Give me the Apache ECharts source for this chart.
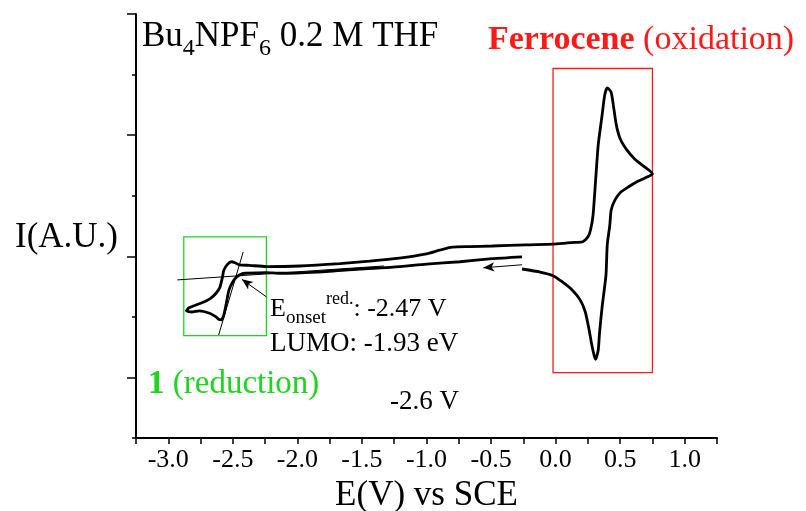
<!DOCTYPE html>
<html>
<head>
<meta charset="utf-8">
<script src="https://cdn.jsdelivr.net/npm/echarts@6/dist/echarts.min.js"></script>
<style>
  html, body { margin: 0; padding: 0; background: #fff; }
  #chart { width: 806px; height: 511px; }
</style>
</head>
<body>
<div id="chart"></div>
<script>
// Cyclic voltammogram, potential in V vs SCE, current in arbitrary units.
// Sweep 1: from -0.26 V towards negative potentials (reduction of 1)
const sweep1E = [-0.26, -0.49, -0.74, -1.00, -1.26, -1.52, -1.85, -2.14, -2.24, -2.40, -2.43, -2.47, -2.50, -2.53, -2.55, -2.57, -2.59, -2.61, -2.63, -2.68, -2.76, -2.82, -2.86];
const sweep1I = [2.99, 2.96, 2.91, 2.87, 2.82, 2.79, 2.74, 2.72, 2.73, 2.72, 2.71, 2.66, 2.58, 2.44, 2.23, 2.03, 1.95, 1.96, 2.00, 2.06, 2.10, 2.08, 2.10];

// Sweep 2: from -2.86 V up to +0.75 V (re-oxidation of 1, ferrocene oxidation)
const sweep2E = [-2.84, -2.78, -2.72, -2.67, -2.63, -2.60, -2.58, -2.57, -2.54, -2.51, -2.48, -2.45, -2.37, -2.24, -1.98, -1.67, -1.44, -1.21, -1.00, -0.90, -0.80, -0.67, -0.49, -0.23, -0.02, 0.09, 0.15, 0.21, 0.25, 0.27, 0.29, 0.31, 0.33, 0.36, 0.38, 0.40, 0.43, 0.45, 0.47, 0.50, 0.55, 0.61, 0.68, 0.75];
const sweep2I = [2.15, 2.20, 2.25, 2.31, 2.39, 2.49, 2.66, 2.77, 2.87, 2.91, 2.89, 2.86, 2.85, 2.83, 2.84, 2.88, 2.92, 2.97, 3.04, 3.10, 3.15, 3.16, 3.17, 3.19, 3.20, 3.22, 3.23, 3.24, 3.32, 3.43, 3.68, 4.26, 4.84, 5.33, 5.66, 5.78, 5.71, 5.45, 5.17, 4.94, 4.76, 4.61, 4.49, 4.36];

// Sweep 3: from +0.75 V back to -0.26 V (ferrocenium reduction)
const sweep3E = [0.69, 0.63, 0.56, 0.50, 0.46, 0.43, 0.42, 0.40, 0.39, 0.36, 0.34, 0.33, 0.31, 0.30, 0.28, 0.26, 0.23, 0.19, 0.13, 0.05, -0.02, -0.12, -0.26];
const sweep3I = [4.29, 4.23, 4.14, 4.05, 3.93, 3.76, 3.52, 3.19, 2.69, 2.16, 1.73, 1.45, 1.30, 1.35, 1.54, 1.78, 2.08, 2.28, 2.44, 2.58, 2.68, 2.74, 2.79];

// Onset construction for the reduction of 1
const baselineTangent = [[-2.93, 2.61], [-1.33, 2.84]];
const risingTangent = [[-2.42, 3.07], [-2.61, 1.70]];
const onsetArrow = [[-2.24, 2.33], [-2.43, 2.62]];
const scanArrow = [[-0.26, 2.86], [-0.56, 2.81]];

// Highlight boxes: [E1, I1, E2, I2]
const reductionBox = [-2.88, 3.32, -2.24, 1.69];
const oxidationBox = [-0.02, 6.10, 0.75, 1.08];

const yMajorTicks = [1, 3, 5, 7];

const serif = '"Liberation Serif", "Times New Roman", serif';
const green = '#22d422';
const red = '#ff1a1a';

function zip(xs, ys) { return xs.map((x, i) => [x, ys[i]]); }
const cvData = zip(sweep1E, sweep1I).concat(zip(sweep2E, sweep2I), zip(sweep3E, sweep3I));

function segment(pts, arrow) {
  return [
    { coord: pts[0], symbol: 'none' },
    { coord: pts[1], symbol: arrow ? 'arrow' : 'none', symbolSize: arrow ? [7, 11] : 0 }
  ];
}
function box(b, color) {
  return [
    { coord: [b[0], b[1]], itemStyle: { color: 'rgba(0,0,0,0)', borderColor: color, borderWidth: 1.3 } },
    { coord: [b[2], b[3]] }
  ];
}

const chart = echarts.init(document.getElementById('chart'), null, { renderer: 'canvas' });

const axisBlack = { color: '#000', width: 2 };
const tickBlack = { color: '#000', width: 1.5 };

chart.setOption({
  animation: false,
  backgroundColor: '#fff',
  grid: { left: 136, right: 89, top: 14, bottom: 73, containLabel: false, outerBoundsMode: 'none' },
  xAxis: {
    type: 'value', min: -3.25, max: 1.25, interval: 0.25,
    axisLine: { show: true, onZero: false, lineStyle: axisBlack },
    axisTick: { show: true, length: 6, lineStyle: tickBlack },
    axisLabel: {
      fontFamily: serif, fontSize: 26, color: '#000', margin: 9,
      formatter: v => (Math.abs(v * 2 - Math.round(v * 2)) < 1e-6 ? v.toFixed(1) : '')
    },
    splitLine: { show: false },
    name: 'E(V) vs SCE', nameLocation: 'middle', nameGap: 35,
    nameTextStyle: { fontFamily: serif, fontSize: 35, color: '#000', lineHeight: 36 }
  },
  yAxis: [
    {
      type: 'value', min: 0, max: 7, interval: 1,
      axisLine: { show: true, onZero: false, lineStyle: axisBlack },
      axisTick: { show: true, length: 4, lineStyle: tickBlack },
      axisLabel: { show: false },
      splitLine: { show: false }
    },
    {
      type: 'value', min: 0, max: 7, interval: 1, position: 'left',
      axisLine: { show: false, onZero: false },
      axisTick: { show: true, length: 9, customValues: yMajorTicks, lineStyle: tickBlack },
      axisLabel: { show: false },
      splitLine: { show: false }
    }
  ],
  series: [{
    type: 'line',
    data: cvData,
    showSymbol: false,
    symbol: 'none',
    smooth: 0.2,
    lineStyle: { color: '#000', width: 2.8 },
    z: 3,
    markLine: {
      silent: true,
      animation: false,
      label: { show: false },
      lineStyle: { color: '#000', width: 1, type: 'solid' },
      data: [
        segment(baselineTangent, false),
        segment(risingTangent, false),
        segment(onsetArrow, true),
        segment(scanArrow, true)
      ]
    },
    markArea: {
      silent: true,
      label: { show: false },
      data: [box(reductionBox, green), box(oxidationBox, red)]
    }
  }],
  graphic: [
    {
      type: 'text', left: 142, top: 12,
      style: {
        text: '{m|Bu}{s|4}{m|NPF}{s|6}{m| 0.2 M THF}',
        fill: '#000',
        rich: {
          m: { fontFamily: serif, fontSize: 35, lineHeight: 40, fill: '#000' },
          s: { fontFamily: serif, fontSize: 24, lineHeight: 24, fill: '#000', padding: [25, 0, 0, 0] }
        }
      }
    },
    {
      type: 'text', left: 488, top: 23,
      style: {
        text: '{b|Ferrocene}{n| (oxidation)}',
        rich: {
          b: { fontFamily: serif, fontSize: 34, fontWeight: 'bold', fill: red, lineHeight: 40 },
          n: { fontFamily: serif, fontSize: 34, fill: red, lineHeight: 40 }
        }
      }
    },
    {
      type: 'text', x: 118, y: 238,
      style: { text: 'I(A.U.)', fontFamily: serif, fontSize: 35, fill: '#000', align: 'right', verticalAlign: 'middle' }
    },
    {
      type: 'text', x: 270, y: 309,
      style: {
        text: '{m|E}{sub|onset}{sup|red.}{m|: -2.47 V}',
        verticalAlign: 'middle',
        rich: {
          m: { fontFamily: serif, fontSize: 26, lineHeight: 30, fill: '#000' },
          sub: { fontFamily: serif, fontSize: 19, lineHeight: 19, fill: '#000', padding: [18, 0, 0, 0] },
          sup: { fontFamily: serif, fontSize: 18, lineHeight: 18, fill: '#000', padding: [0, 0, 19, 0] }
        }
      }
    },
    {
      type: 'text', x: 270, y: 344,
      style: { text: 'LUMO: -1.93 eV', fontFamily: serif, fontSize: 27, fill: '#000', verticalAlign: 'middle' }
    },
    {
      type: 'text', x: 148, y: 384,
      style: {
        text: '{b|1}{n| (reduction)}',
        verticalAlign: 'middle',
        rich: {
          b: { fontFamily: serif, fontSize: 33, fontWeight: 'bold', fill: green },
          n: { fontFamily: serif, fontSize: 33, fill: green }
        }
      }
    },
    {
      type: 'text', x: 390, y: 402,
      style: { text: '-2.6 V', fontFamily: serif, fontSize: 27, fill: '#000', verticalAlign: 'middle' }
    }
  ]
});
</script>
</body>
</html>
